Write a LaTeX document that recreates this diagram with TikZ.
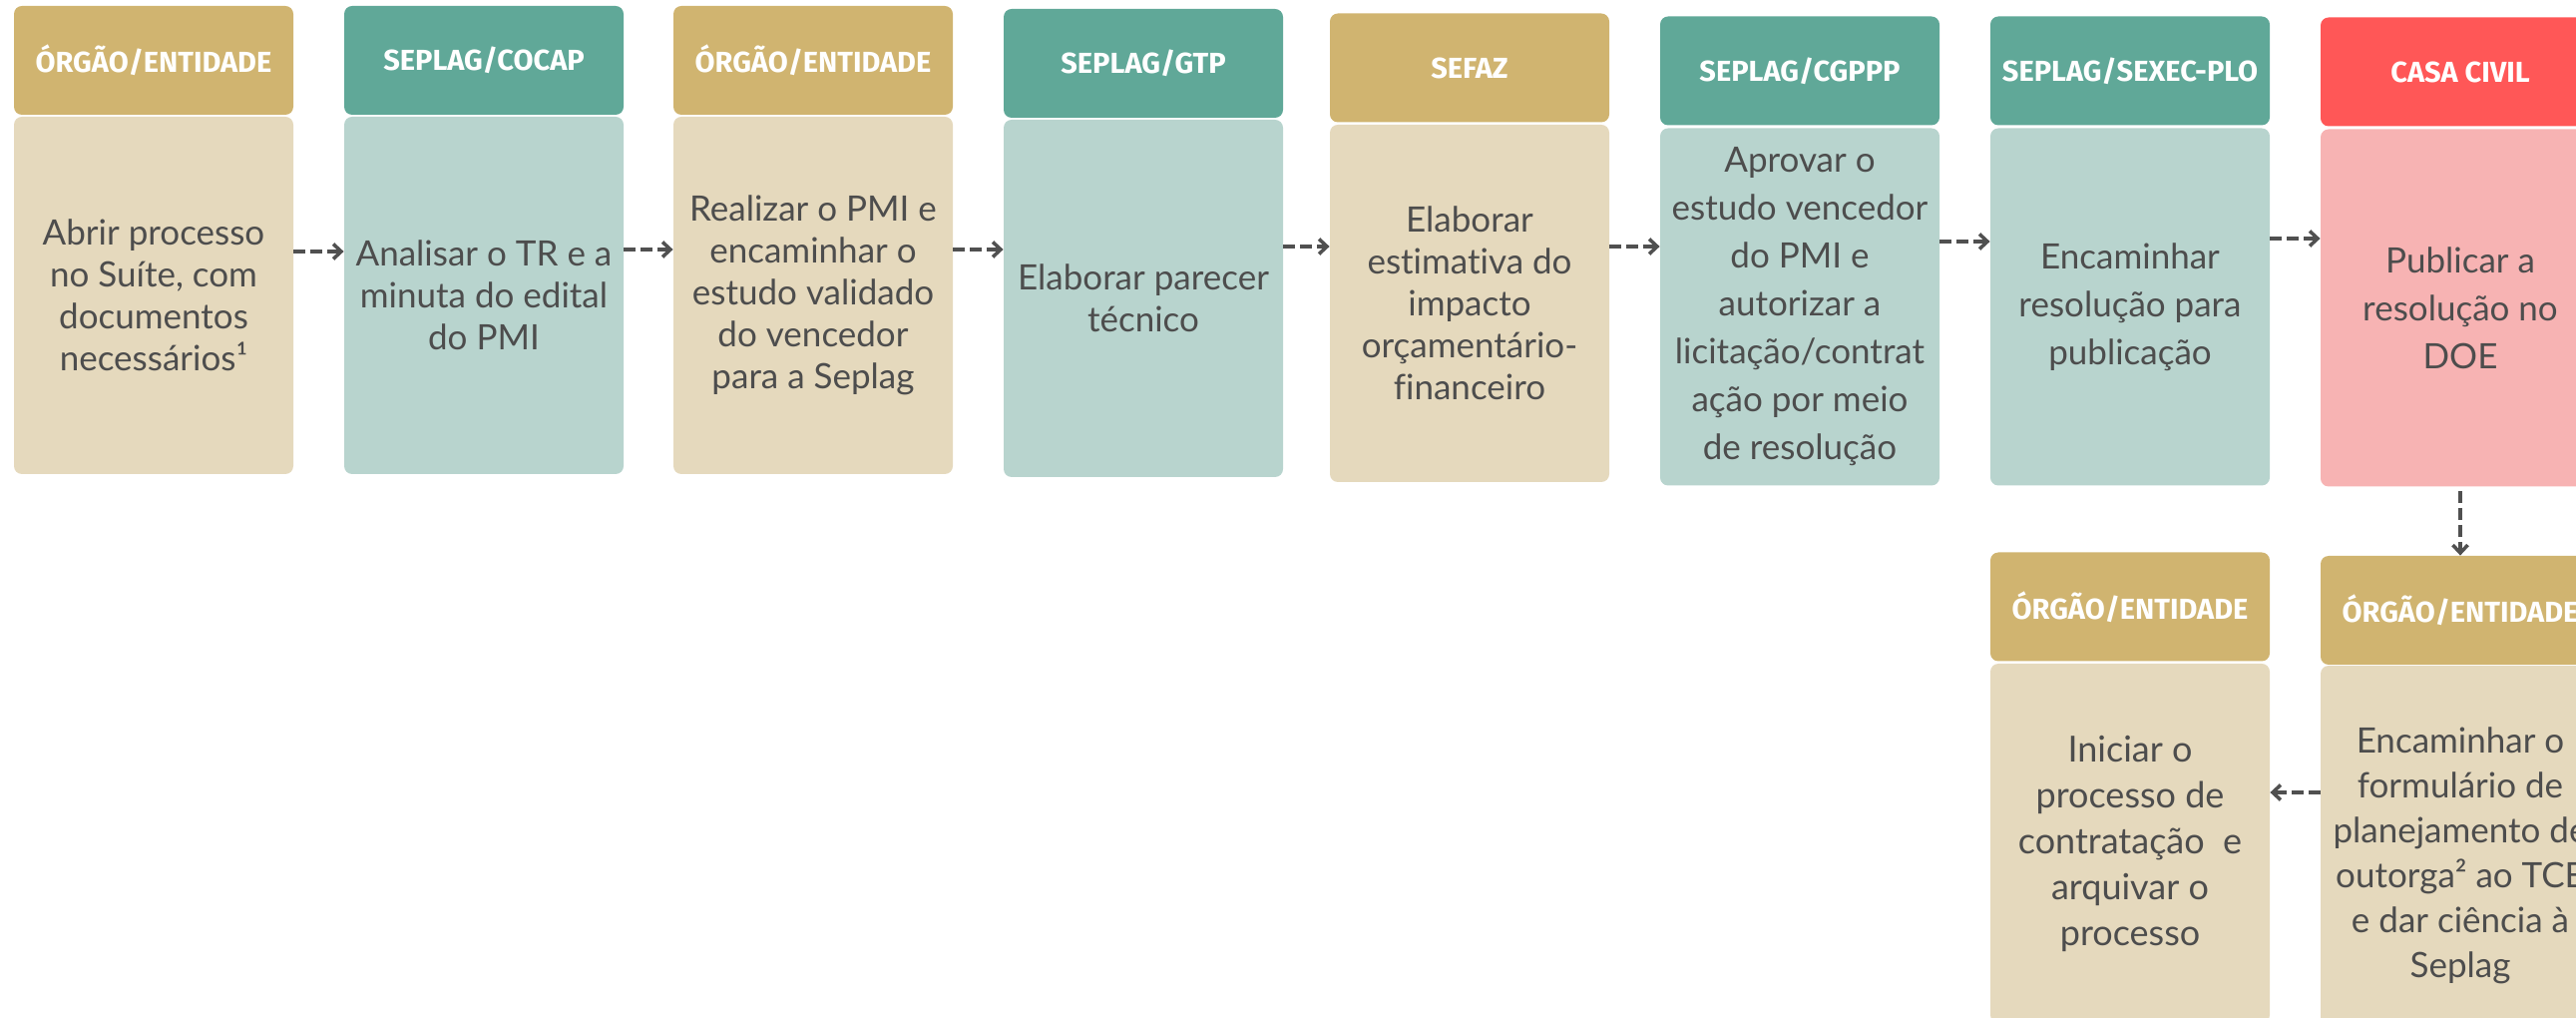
\documentclass[tikz,border=0pt]{standalone}
\usepackage{fontspec}
\usetikzlibrary{arrows.meta}
\newfontfamily\corpofont[RawFeature={-liga;-dlig;-clig}]{Lato}
\newfontfamily\cabfont{Fira Sans}
\definecolor{ouro}{HTML}{D0B470}
\definecolor{ourocl}{HTML}{E5D9BD}
\definecolor{verde}{HTML}{60A898}
\definecolor{verdecl}{HTML}{B8D4CE}
\definecolor{verm}{HTML}{FF5757}
\definecolor{vermcl}{HTML}{F7B3B3}
\definecolor{texto}{HTML}{4D4D4D}
\definecolor{seta}{HTML}{505050}
\tikzset{
  cab/.style={rounded corners=4pt, minimum width=140pt, minimum height=54.5pt, inner sep=0pt,
    text=white, font=\cabfont\bfseries\fontsize{14.5}{17}\selectfont},
  corpo/.style={rounded corners=4pt, minimum width=140pt, minimum height=179pt, inner sep=0pt,
    text=texto, align=center, font=\corpofont\fontsize{17.5}{21}\selectfont},
  fluxo/.style={seta, line width=1.75pt, dash pattern=on 6pt off 2.5pt,
    -{Straight Barb[length=4pt,width=7.5pt]}}
}
\begin{document}
\begin{tikzpicture}[x=0.5pt,y=-0.5pt]
\useasboundingbox (0,0) rectangle (2582,1020);
% linha de cima
\node[cab,fill=ouro] (c1) at (154,60.5) {ÓRGÃO/ENTIDADE};
\node[corpo,fill=ourocl] (b1) at (154,296) {Abrir processo\\no Suíte, com\\documentos\\necessários¹};
\node[cab,fill=verde] (c2) at (485,60.5) {SEPLAG/COCAP};
\node[corpo,fill=verdecl] (b2) at (485,296) {Analisar o TR e a\\minuta do edital\\do PMI};
\node[cab,fill=ouro] (c3) at (815,60.5) {ÓRGÃO/ENTIDADE};
\node[corpo,fill=ourocl] (b3) at (815,296) {Realizar o PMI e\\encaminhar o\\estudo validado\\do vencedor\\para a Seplag};
\node[cab,fill=verde] (c4) at (1146,63.5) {SEPLAG/GTP};
\node[corpo,fill=verdecl] (b4) at (1146,299) {Elaborar parecer\\técnico};
\node[cab,fill=ouro] (c5) at (1473,68) {SEFAZ};
\node[corpo,fill=ourocl] (b5) at (1473,304) {Elaborar\\estimativa do\\impacto\\orçamentário-\\financeiro};
\node[cab,fill=verde] (c6) at (1804,71) {SEPLAG/CGPPP};
\node[corpo,fill=verdecl,font=\corpofont\fontsize{17.5}{24}\selectfont] (b6) at (1804,307.5) {Aprovar o\\estudo vencedor\\do PMI e\\autorizar a\\licitação/contrat\\ação por meio\\de resolução};
\node[cab,fill=verde] (c7) at (2135,71) {SEPLAG/SEXEC-PLO};
\node[corpo,fill=verdecl,font=\corpofont\fontsize{17.5}{24}\selectfont] (b7) at (2135,307.5) {Encaminhar\\resolução para\\publicação};
\node[cab,fill=verm] (c8) at (2466,72) {CASA CIVIL};
\node[corpo,fill=vermcl,font=\corpofont\fontsize{17.5}{24}\selectfont] (b8) at (2466,308.5) {Publicar a\\resolução no\\DOE};
% linha de baixo
\node[cab,fill=ouro] (c9) at (2135,608) {ÓRGÃO/ENTIDADE};
\node[corpo,fill=ourocl,minimum height=180pt,font=\corpofont\fontsize{18}{23}\selectfont] (b9) at (2135,845) {Iniciar o\\processo de\\contratação~ e\\arquivar o\\processo};
\node[cab,fill=ouro] (c10) at (2466,611.5) {ÓRGÃO/ENTIDADE};
\node[corpo,fill=ourocl,minimum height=190pt,font=\corpofont\fontsize{17.5}{22.5}\selectfont] (b10) at (2466,857) {Encaminhar o\\formulário de\\planejamento de\\outorga² ao TCE\\e dar ciência à\\Seplag};
% setas
\draw[fluxo] (b1.east |- 0,252) -- (b2.west |- 0,252);
\draw[fluxo] (b2.east |- 0,250) -- (b3.west |- 0,250);
\draw[fluxo] (b3.east |- 0,250) -- (b4.west |- 0,250);
\draw[fluxo] (b4.east |- 0,247) -- (b5.west |- 0,247);
\draw[fluxo] (b5.east |- 0,247) -- (b6.west |- 0,247);
\draw[fluxo] (b6.east |- 0,242) -- (b7.west |- 0,242);
\draw[fluxo] (b7.east |- 0,239) -- (b8.west |- 0,239);
\draw[fluxo,shorten <=2pt] (b8.south) -- (c10.north);
\draw[fluxo] (b10.west |- 0,794) -- (b9.east |- 0,794);
\end{tikzpicture}
\end{document}
